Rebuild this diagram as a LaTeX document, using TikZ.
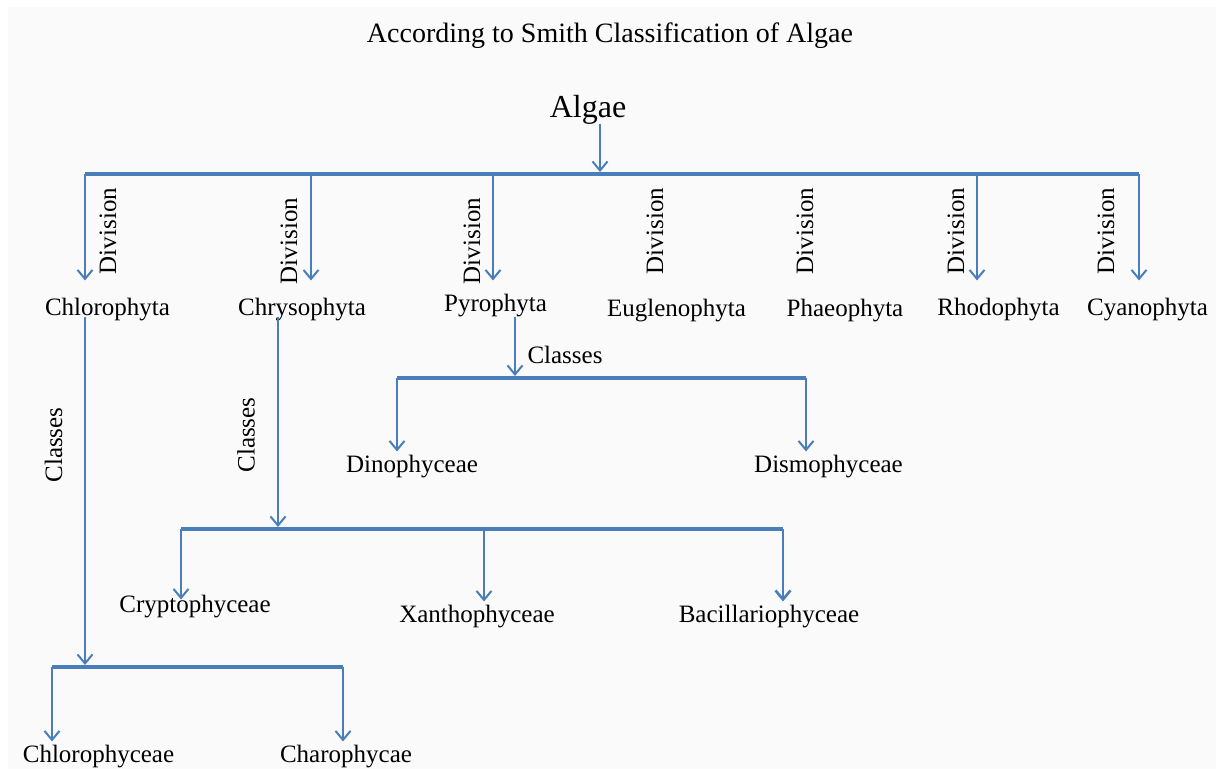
\documentclass[tikz,border=0pt]{standalone}
\usepackage{fontspec}
\setmainfont{Liberation Serif}
\usetikzlibrary{arrows.meta}
\definecolor{lineblue}{HTML}{4A7EBB}
\definecolor{bgpaper}{HTML}{FAFAFA}
\begin{document}
\begin{tikzpicture}[x=1pt,y=-1pt,
  lbl/.style={inner sep=0pt, anchor=base, font=\fontsize{25}{30}\selectfont},
  rlbl/.style={inner sep=0pt, anchor=center, rotate=90, font=\fontsize{25}{30}\selectfont},
  bar/.style={draw=lineblue, line width=4.5pt},
  link/.style={draw=lineblue, line width=2pt},
  arr/.style={link, -{Straight Barb[length=9pt,width=15pt]}},
]
\useasboundingbox (0,0) rectangle (1216,769);
\fill[white] (0,0) rectangle (1216,769);
\fill[bgpaper] (8,7) rectangle (1216,769);

% texts
\node[lbl, font=\fontsize{28}{34}\selectfont] (title) at (610,42) {According to Smith Classification of Algae};
\node[lbl, font=\fontsize{32}{38}\selectfont] (algae) at (588,117) {Algae};

\node[lbl] (chl) at (107.5,315) {Chlorophyta};
\node[lbl] (chr) at (302,315) {Chrysophyta};
\node[lbl] (pyr) at (495.5,311) {Pyrophyta};
\node[lbl] (eug) at (676.5,316) {Euglenophyta};
\node[lbl] (pha) at (845,316) {Phaeophyta};
\node[lbl] (rho) at (998.5,315) {Rhodophyta};
\node[lbl] (cya) at (1147.5,315) {Cyanophyta};

\node[rlbl] (d1) at (108,231) {Division};
\node[rlbl] (d2) at (289,241) {Division};
\node[rlbl] (d3) at (472,241) {Division};
\node[rlbl] (d4) at (655,231) {Division};
\node[rlbl] (d5) at (805,231) {Division};
\node[rlbl] (d6) at (956,231) {Division};
\node[rlbl] (d7) at (1106,231) {Division};

\node[rlbl] (cl1) at (53.5,445) {Classes};
\node[rlbl] (cl2) at (246,435) {Classes};
\node[lbl] (cl3) at (565,363) {Classes};

\node[lbl] (din) at (412,472) {Dinophyceae};
\node[lbl] (dis) at (828.5,472) {Dismophyceae};
\node[lbl] (cry) at (195,612) {Cryptophyceae};
\node[lbl] (xan) at (477,622) {Xanthophyceae};
\node[lbl] (bac) at (769,622) {Bacillariophyceae};
\node[lbl] (chc) at (98.5,762) {Chlorophyceae};
\node[lbl] (cha) at (346,762) {Charophycae};

% main bar
\coordinate (ma) at (600,174);
\coordinate (m1) at (85,174);
\coordinate (m2) at (311,174);
\coordinate (m3) at (493,174);
\coordinate (m4) at (977,174);
\coordinate (m5) at (1139,174);
\draw[bar] (m1) -- (m5);
\draw[arr, shorten >=2pt] (ma |- algae.south) -- (ma);
\draw[arr, shorten >=17pt] (m1) -- (m1 |- chl.north);
\draw[arr, shorten >=17pt] (m2) -- (m2 |- chr.north);
\draw[arr, shorten >=13pt] (m3) -- (m3 |- pyr.north);
\draw[arr, shorten >=17pt] (m4) -- (m4 |- rho.north);
\draw[arr, shorten >=17pt] (m5) -- (m5 |- cya.north);

% Pyrophyta classes
\coordinate (pa) at (515,378);
\coordinate (p1) at (397,378);
\coordinate (p2) at (806,378);
\draw[bar] (p1) -- (p2);
\draw[arr, shorten >=2pt] (pa |- pyr.south) -- (pa);
\draw[arr, shorten >=3pt] (p1) -- (p1 |- din.north);
\draw[arr, shorten >=3pt] (p2) -- (p2 |- dis.north);

% Chrysophyta classes
\coordinate (ca) at (278,529);
\coordinate (c1) at (181,529);
\coordinate (c2) at (484,529);
\coordinate (c3) at (783,529);
\draw[bar] (c1) -- (c3);
\draw[arr, shorten >=2pt, shorten <=-4pt] (ca |- chr.south) -- (ca);
\draw[arr, shorten >=-5pt] (c1) -- (c1 |- cry.north);
\draw[arr, shorten >=3pt] (c2) -- (c2 |- xan.north);
\draw[arr, shorten >=3pt, line width=2.6pt] (c3) -- (c3 |- bac.north);

% Chlorophyta classes
\coordinate (ha) at (85,667);
\coordinate (h1) at (52,667);
\coordinate (h2) at (343,667);
\draw[bar] (h1) -- (h2);
\draw[arr, shorten >=2pt, shorten <=-4pt] (ha |- chl.south) -- (ha);
\draw[arr, shorten >=3pt] (h1) -- (h1 |- chc.north);
\draw[arr, shorten >=3pt] (h2) -- (h2 |- cha.north);
\end{tikzpicture}
\end{document}
